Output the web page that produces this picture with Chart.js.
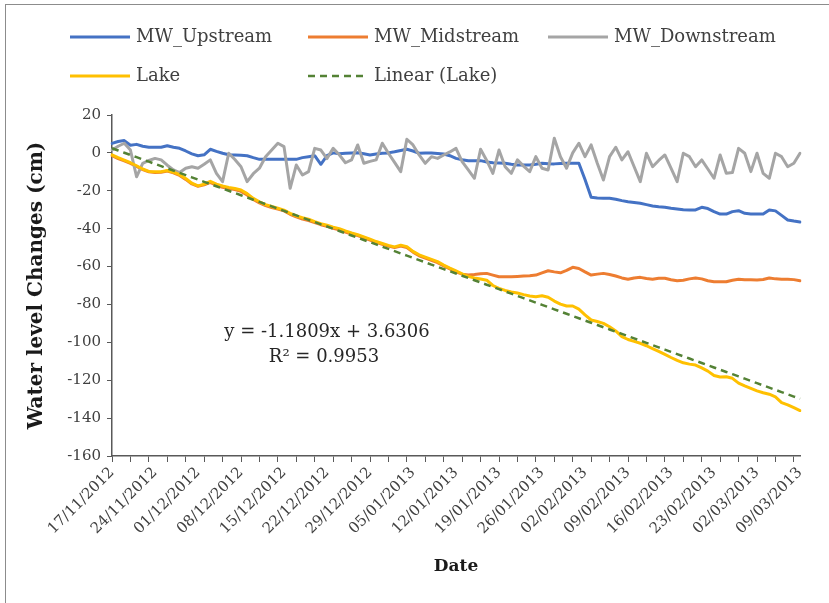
<!DOCTYPE html>
<html>
<head>
<meta charset="utf-8">
<script src="https://cdn.jsdelivr.net/npm/chart.js@4.4.1/dist/chart.umd.min.js"></script>
<style>
  body { margin: 0; background: #fff; }
  #wrap { position: relative; width: 829px; height: 603px; overflow: hidden; background: #fff; }
  #frame { position: absolute; left: 5px; top: 4px; width: 900px; height: 700px; border: 1px solid #8c8c8c; }
  canvas { position: absolute; left: 0; top: 0; }
</style>
</head>
<body>
<div id="wrap">
  <div id="frame"></div>
  <canvas id="myChart" width="829" height="603"></canvas>
</div>
<script>
// daily dates, 17/11/2012 .. 09/03/2013
const startDate = Date.UTC(2012, 10, 17);
const nDays = 113;
const dates = [];
for (let i = 0; i < nDays; i++) {
    const d = new Date(startDate + i * 86400000);
    dates.push(String(d.getUTCDate()).padStart(2, '0') + '/' +
        String(d.getUTCMonth() + 1).padStart(2, '0') + '/' + d.getUTCFullYear());
}

const upstream = [
    5, 6, 6.5, 4, 4.5, 3.5, 3, 3, 3, 3.8,
    3, 2.4, 1, -0.5, -1.5, -1, 1.9, 0.8, -0.2, -1,
    -1.1, -1.2, -1.5, -2.5, -3.4, -3.4, -3.4, -3.4, -3.4, -3.4,
    -3.4, -2.5, -2, -1.5, -6, -1.5, 0, -0.5, -0.2, 0,
    0.1, -0.5, -1.1, -0.6, -0.2, 0, 0.6, 1.3, 1.9, 1,
    -0.2, 0, 0, -0.3, -0.6, -1.5, -2.9, -3.6, -4.1, -4.1,
    -4.1, -4.8, -5.2, -5.3, -5.5, -6, -6.4, -6.4, -6.4, -6,
    -5.5, -5.7, -5.8, -5.6, -5.5, -5.5, -5.5, -14, -23.4, -23.8,
    -24, -24, -24.5, -25.2, -25.8, -26.2, -26.6, -27.3, -28, -28.4,
    -28.7, -29.2, -29.6, -30, -30.1, -30.1, -28.7, -29.4, -31, -32.3,
    -32.3, -31, -30.5, -31.9, -32.2, -32.3, -32.3, -30.1, -30.6, -33,
    -35.4, -36, -36.5
];

const midstream = [
    -1.5, -3, -4.2, -5.5, -7.2, -8.8, -10, -10.3, -10.2, -9.6,
    -10.5, -11.9, -14, -16.4, -17.6, -16.9, -15.6, -17.2, -18.2, -18.8,
    -19.4, -20.3, -22.2, -24.6, -26.4, -27.8, -28.8, -29.7, -30.6, -32.4,
    -33.8, -34.9, -35.7, -36.8, -37.9, -38.7, -39.8, -40.6, -41.8, -42.8,
    -43.7, -44.8, -46, -47.2, -48.2, -49.2, -50, -49.2, -50, -52.4,
    -54.3, -55.5, -56.7, -57.9, -59.6, -61.2, -62.8, -64, -64.5, -64.2,
    -63.8, -63.6, -64.5, -65.4, -65.4, -65.4, -65.2, -65, -64.8, -64.5,
    -63.3, -62.2, -62.8, -63.3, -62, -60.4, -61, -62.8, -64.5, -64,
    -63.6, -64.2, -65, -66, -66.7, -66, -65.7, -66.3, -66.7, -66.2,
    -66.2, -67, -67.5, -67.2, -66.5, -66, -66.5, -67.5, -68, -68,
    -68, -67.2, -66.7, -67, -67, -67.1, -66.8, -66, -66.5, -66.7,
    -66.7, -66.9, -67.5
];

const downstream = [
    1.5, 3.5, 5.1, 1.5, -12.6, -5.5, -4, -2.9, -3.7, -6.5,
    -9, -10.4, -8.1, -7.3, -8.1, -6, -3.7, -10.8, -15.2, -0.2,
    -3.5, -7.3, -15.2, -11, -8.1, -2, 1.5, 5.1, 3.3, -18.7,
    -6.4, -11.7, -9.9, 2.4, 1.5, -3, 2.4, -1, -5.2, -3.7,
    4.2, -5.5, -4.5, -3.7, 5.1, -0.2, -5, -9.9, 7.2, 4.2,
    -1.1, -5.5, -2, -2.9, -1.1, 0.5, 2.4, -4.6, -9, -13.4,
    1.9, -4, -10.8, 1.5, -7.3, -10.8, -3.7, -7, -9.9, -2,
    -8.1, -9, 7.7, -2, -8.1, 0, 5.1, -2, 4.2, -5.5,
    -14.3, -2, 3, -3.7, 0.6, -7.3, -15.2, -0.2, -7.3, -4,
    -1.1, -8.1, -15.2, -0.2, -2, -7.3, -3.7, -8.5, -13.4, -1.1,
    -10.8, -10.4, 2.4, -0.2, -9.9, -0.2, -10.8, -13.4, -0.2, -2,
    -7.3, -5.5, -0.2
];

const lake = [
    -1, -2.5, -3.8, -5.2, -6.8, -8.5, -9.8, -10, -9.9, -9.3,
    -10.2, -11.5, -13.5, -16, -17.4, -16.5, -15, -16.5, -17.5, -18.2,
    -18.8, -19.6, -21.5, -24, -25.8, -27.3, -28.3, -29.2, -30.2, -31.9,
    -33.3, -34.2, -35, -36.3, -37.4, -38.2, -39.2, -40, -41.2, -42.3,
    -43.2, -44.3, -45.5, -46.8, -47.8, -48.8, -49.6, -48.7, -49.5, -52,
    -53.8, -55, -56.2, -57.4, -59.2, -60.8, -62.3, -63.8, -65.2, -66,
    -66.6, -67.2, -70, -71.5, -72.6, -73.4, -74, -74.8, -75.5, -75.9,
    -75.4, -76.2, -78.2, -79.8, -80.8, -80.8, -82.5, -85.5, -88.2, -89,
    -90, -91.8, -94, -97, -98.5, -99.5, -100.5, -101.8, -103.3, -104.8,
    -106.4, -108, -109.5, -110.8, -111.5, -112, -113.5, -115.2, -117.5, -118.3,
    -118.2, -119, -121.5, -123, -124.3, -125.6, -126.6, -127.4, -128.8, -131.8,
    -133, -134.5, -136
];

// Excel trendline on Lake, as printed on the chart
const trendSlope = -1.1809;
const trendIntercept = 3.6306;
const trendR2 = 0.9953;
const lakeTrend = lake.map((v, i) => trendSlope * (i + 1) + trendIntercept);

const eqText = 'y = ' + trendSlope + 'x + ' + trendIntercept;
const r2Text = 'R\u00B2 = ' + trendR2;

Chart.defaults.font.family = '"DejaVu Serif", serif';

const legendSlots = [[70, 37], [308, 37], [548, 37], [70, 76], [308, 76]];

const overlay = {
    id: 'overlay',
    afterDraw(chart) {
        const c = chart.ctx;
        c.save();
        c.font = '18px "DejaVu Serif"';
        c.textBaseline = 'middle';
        c.fillStyle = '#404040';
        chart.data.datasets.forEach((ds, i) => {
            const [x, y] = legendSlots[i];
            c.beginPath();
            c.setLineDash(ds.borderDash || []);
            c.strokeStyle = ds.borderColor;
            c.lineWidth = ds.borderWidth;
            c.moveTo(x, y);
            c.lineTo(x + 60, y);
            c.stroke();
            c.setLineDash([]);
            c.fillText(ds.label, x + 66, y);
        });
        c.fillStyle = '#262626';
        c.textAlign = 'center';
        c.fillText(eqText, 327, 332);
        c.fillText(r2Text, 324, 357);
        c.restore();
    }
};

const line = (label, data, color, order) => ({
    label: label,
    data: data,
    borderColor: color,
    backgroundColor: color,
    borderWidth: 3,
    pointRadius: 0,
    tension: 0,
    fill: false,
    borderJoinStyle: 'round',
    borderCapStyle: 'round',
    order: order
});

const trendSet = line('Linear (Lake)', lakeTrend, '#548235', 1);
trendSet.borderWidth = 2.5;
trendSet.borderDash = [7, 5];
trendSet.borderCapStyle = 'butt';

const ctx = document.getElementById('myChart').getContext('2d');
const myChart = new Chart(ctx, {
    type: 'line',
    data: {
        labels: dates,
        datasets: [
            line('MW_Upstream', upstream, '#4472C4', 5),
            line('MW_Midstream', midstream, '#ED7D31', 4),
            line('MW_Downstream', downstream, '#A5A5A5', 3),
            line('Lake', lake, '#FFC000', 2),
            trendSet
        ]
    },
    options: {
        responsive: false,
        animation: false,
        devicePixelRatio: 1,
        layout: { padding: { top: 115, right: 29, left: 0, bottom: 0 } },
        plugins: {
            legend: { display: false },
            tooltip: { enabled: false }
        },
        scales: {
            x: {
                grid: {
                    drawOnChartArea: false,
                    tickLength: 6,
                    tickColor: (c) => c.index % 3 === 0 ? '#595959' : 'rgba(0,0,0,0)'
                },
                border: { color: '#595959', width: 1.5 },
                ticks: {
                    autoSkip: false,
                    maxRotation: 45,
                    minRotation: 45,
                    padding: 2,
                    color: '#404040',
                    font: { size: 15 },
                    callback: (v, i) => i % 7 === 0 ? dates[i] : ''
                },
                title: {
                    display: true,
                    text: 'Date',
                    color: '#1a1a1a',
                    font: { size: 17, weight: 'bold' },
                    padding: { top: 0, bottom: 26 }
                },
                afterFit: (s) => { s.height = 147; }
            },
            y: {
                min: -160,
                max: 20,
                ticks: { stepSize: 20, padding: 6, color: '#404040', font: { size: 15 } },
                grid: { drawOnChartArea: false, tickLength: 5, tickColor: '#595959' },
                border: { color: '#595959', width: 1.5 },
                title: {
                    display: true,
                    text: 'Water level Changes (cm)',
                    color: '#1a1a1a',
                    font: { size: 20, weight: 'bold' },
                    padding: { top: 25, bottom: 0 }
                },
                afterFit: (s) => { s.width = 112; }
            }
        }
    },
    plugins: [overlay]
});
</script>
</body>
</html>
